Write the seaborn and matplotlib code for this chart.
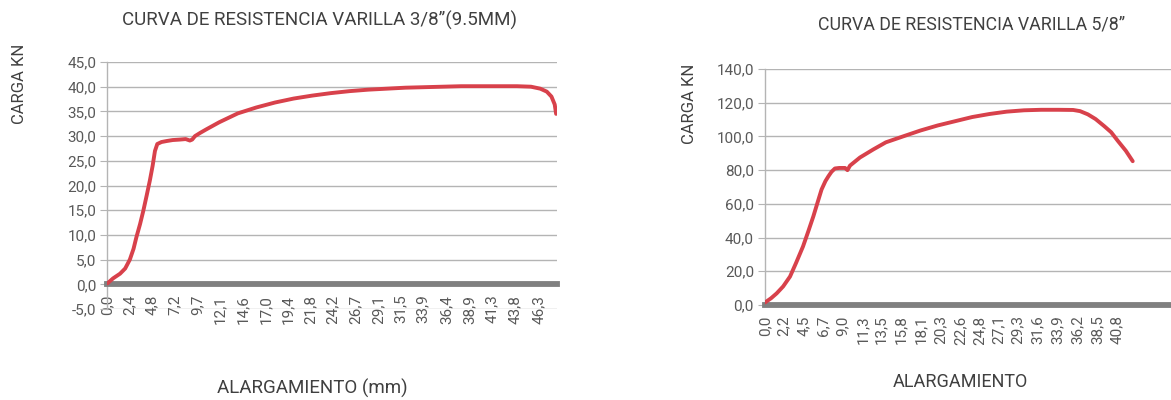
import seaborn as sns
import matplotlib.pyplot as plt
import pandas as pd

# varilla 3/8" (9.5 mm): alargamiento (mm) vs carga (kN)
alarg_38 = [0.0, 0.6, 1.35, 1.9, 2.4, 2.8, 3.1, 3.5, 3.85, 4.2, 4.55, 4.85, 5.1, 5.35,
            5.8, 6.35, 7.0, 7.8, 8.4, 8.85, 9.1, 9.4, 10.0, 10.65, 12.0, 14.0, 16.0,
            18.0, 20.0, 22.0, 24.0, 26.0, 28.0, 30.0, 32.0, 34.0, 36.0, 38.0, 40.0,
            42.0, 44.0, 45.5, 46.5, 47.2, 47.7, 48.05, 48.2]
carga_38 = [0.2, 1.2, 2.15, 3.2, 5.0, 7.2, 9.5, 12.2, 14.9, 17.9, 21.0, 24.0, 27.0, 28.4,
            28.8, 29.0, 29.2, 29.3, 29.4, 29.1, 29.3, 30.0, 30.7, 31.4, 32.8, 34.6, 35.8,
            36.8, 37.6, 38.2, 38.7, 39.1, 39.4, 39.6, 39.8, 39.9, 40.0, 40.1, 40.1,
            40.1, 40.1, 40.0, 39.6, 39.0, 38.0, 36.4, 34.5]
ticks_38 = [0.0, 2.4, 4.8, 7.2, 9.7, 12.1, 14.6, 17.0, 19.4, 21.8, 24.2, 26.7, 29.1,
            31.5, 33.9, 36.4, 38.9, 41.3, 43.8, 46.3]
yticks_38 = [-5, 0, 5, 10, 15, 20, 25, 30, 35, 40, 45]

# varilla 5/8"
alarg_58 = [0.0, 0.7, 1.35, 2.1, 2.9, 3.6, 4.4, 5.0, 5.6, 6.1, 6.55, 7.0, 7.35, 7.7,
            8.1, 8.6, 9.27, 9.55, 9.85, 11.0, 12.55, 14.0, 16.1, 18.0, 20.0, 22.0,
            24.0, 26.0, 28.0, 30.0, 32.0, 34.0, 35.7, 36.5, 37.4, 38.3, 39.3, 40.1,
            40.9, 41.8, 42.6]
carga_58 = [1.5, 4.0, 6.9, 11.0, 16.9, 25.0, 34.7, 43.5, 52.6, 61.0, 68.5, 73.5, 76.4,
            79.0, 81.0, 81.3, 81.3, 80.0, 82.7, 87.5, 92.3, 96.5, 100.2, 103.5, 106.5,
            109.0, 111.5, 113.3, 114.7, 115.5, 115.8, 115.8, 115.7, 115.0, 113.1, 110.3,
            106.1, 102.5, 97.2, 91.5, 85.3]
ticks_58 = [0.0, 2.2, 4.5, 6.7, 9.0, 11.3, 13.5, 15.8, 18.1, 20.3, 22.6, 24.8, 27.1,
            29.3, 31.6, 33.9, 36.2, 38.5, 40.8]
yticks_58 = [0, 20, 40, 60, 80, 100, 120, 140]

sns.set_style("white")
plt.rcParams['font.family'] = ['Roboto', 'DejaVu Sans']

RED = '#d8414b'
GRID = '#b4b4b4'
TXT = '#595959'

fig = plt.figure(figsize=(11.71, 4), dpi=100)
ax1 = fig.add_axes([0.0918, 0.2275, 0.3839, 0.6175])
ax2 = fig.add_axes([0.6533, 0.2375, 0.3575, 0.59])


def fmt(v):
    return f"{v:.1f}".replace('.', ',')


def style(ax, xt, yt, xmax):
    ax.set_xlim(0, xmax)
    ax.set_ylim(yt[0], yt[-1])
    ax.set_yticks(yt)
    ax.set_yticklabels([fmt(v) for v in yt])
    ax.set_xticks(xt)
    ax.set_xticklabels([fmt(v) for v in xt])
    ax.grid(axis='y', color=GRID, linewidth=1.0)
    ax.grid(axis='x', visible=False)
    for s in ['top', 'right']:
        ax.spines[s].set_visible(False)
    ax.spines['left'].set_color(GRID)
    ax.spines['left'].set_linewidth(1.0)
    ax.spines['bottom'].set_position(('data', 0))
    ax.spines['bottom'].set_color('#808080')
    ax.spines['bottom'].set_linewidth(4.2)
    ax.tick_params(axis='y', left=True, length=5, color=GRID, labelsize=11,
                   labelcolor=TXT, pad=3)
    ax.tick_params(axis='x', bottom=False, labelsize=11, labelcolor=TXT, pad=4,
                   labelrotation=90)
    ax.set_xlabel('')
    ax.set_ylabel('')


df38 = pd.DataFrame({'alargamiento': alarg_38, 'carga': carga_38})
df58 = pd.DataFrame({'alargamiento': alarg_58, 'carga': carga_58})

sns.lineplot(data=df38, x='alargamiento', y='carga', ax=ax1, color=RED,
             linewidth=2.8, sort=False, zorder=3)
sns.lineplot(data=df58, x='alargamiento', y='carga', ax=ax2, color=RED,
             linewidth=2.8, sort=False, zorder=3)

style(ax1, ticks_38, yticks_38, 48.3)
style(ax2, ticks_58, yticks_58, 48.5)

fig.text(0.273, 0.95, 'CURVA DE RESISTENCIA VARILLA 3/8”(9.5MM)', ha='center',
         va='center', fontsize=13.5, color='#404040')
fig.text(0.83, 0.938, 'CURVA DE RESISTENCIA VARILLA 5/8”', ha='center',
         va='center', fontsize=12.8, color='#404040')
fig.text(0.017, 0.79, 'CARGA KN', rotation=90, ha='center', va='center',
         fontsize=12, color='#404040')
fig.text(0.589, 0.74, 'CARGA KN', rotation=90, ha='center', va='center',
         fontsize=12, color='#404040')
fig.text(0.267, 0.03, 'ALARGAMIENTO (mm)', ha='center', va='center',
         fontsize=13.5, color='#404040')
fig.text(0.82, 0.045, 'ALARGAMIENTO', ha='center', va='center',
         fontsize=13, color='#404040')

fig.savefig('out.png', dpi=100)
